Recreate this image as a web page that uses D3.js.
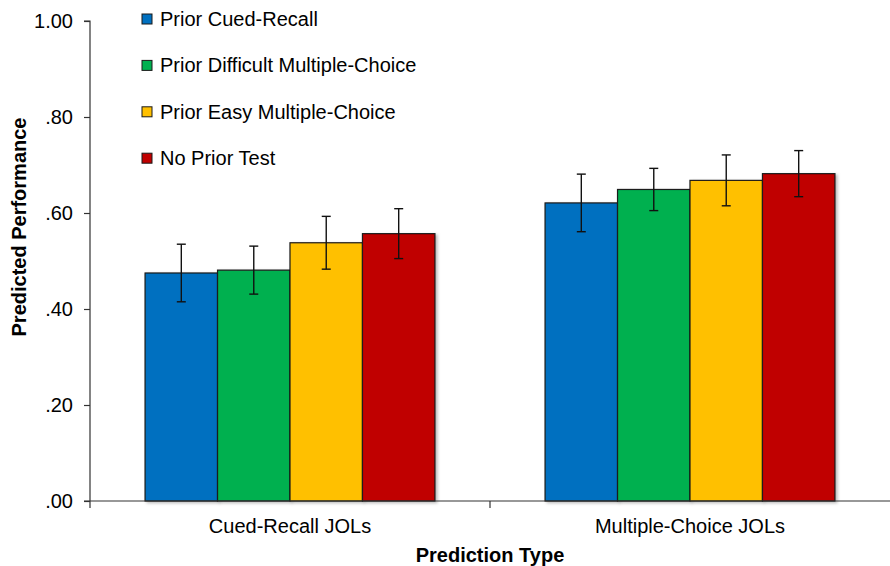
<!DOCTYPE html>
<html>
<head>
<meta charset="utf-8">
<script src="https://cdn.jsdelivr.net/npm/d3@7"></script>
<style>
  html, body { margin: 0; padding: 0; background: #fff; }
  svg { display: block; font-family: Arial, "Liberation Sans", sans-serif; }
</style>
</head>
<body>
<svg id="chart" width="890" height="566"></svg>
<script>
// Prediction types on the x axis
const categories = ["Cued-Recall JOLs", "Multiple-Choice JOLs"];
// Prior-test conditions (one bar per condition in each group)
const seriesNames = [
  "Prior Cued-Recall",
  "Prior Difficult Multiple-Choice",
  "Prior Easy Multiple-Choice",
  "No Prior Test"
];
const seriesColors = ["#0070C0", "#00B050", "#FFC000", "#C00000"];
// Mean predicted performance, one value per category
const priorCuedRecall      = [0.475, 0.621];
const priorDifficultMC     = [0.481, 0.649];
const priorEasyMC          = [0.538, 0.668];
const noPriorTest          = [0.557, 0.682];
// Error bar half-lengths
const errCuedRecall        = [0.060, 0.060];
const errDifficultMC       = [0.050, 0.044];
const errEasyMC            = [0.055, 0.053];
const errNoPrior           = [0.052, 0.048];
// Y tick values
const yTicks = [0, 0.2, 0.4, 0.6, 0.8, 1.0];

const means = [priorCuedRecall, priorDifficultMC, priorEasyMC, noPriorTest];
const errs  = [errCuedRecall, errDifficultMC, errEasyMC, errNoPrior];

const rows = [];
categories.forEach((c, ci) => {
  seriesNames.forEach((s, si) => {
    rows.push({ cat: c, series: s, si, value: means[si][ci], err: errs[si][ci] });
  });
});

const svg = d3.select("#chart");
const margin = { left: 90, right: 0, top: 21, bottom: 65 };
const W = 890, H = 566;
const plotBottom = H - margin.bottom;

const x0 = d3.scaleBand().domain(categories)
  .range([margin.left, W - margin.right]).paddingInner(0).paddingOuter(0);
const x1 = d3.scaleBand().domain(seriesNames)
  .range([0, x0.bandwidth()]).paddingInner(0).paddingOuter(0.76);
const y = d3.scaleLinear().domain([0, 1]).range([plotBottom, margin.top]);
const color = d3.scaleOrdinal().domain(seriesNames).range(seriesColors);

// soft shadow under the bars
const defs = svg.append("defs");
const f = defs.append("filter").attr("id", "barShadow")
  .attr("x", "-10%").attr("y", "-10%").attr("width", "130%").attr("height", "130%");
f.append("feDropShadow").attr("dx", 2).attr("dy", 1.5)
  .attr("stdDeviation", 1.5).attr("flood-color", "#000").attr("flood-opacity", 0.28);

// bars
svg.append("g").selectAll("rect").data(rows).join("rect")
  .attr("x", d => x0(d.cat) + x1(d.series))
  .attr("y", d => y(d.value))
  .attr("width", x1.bandwidth())
  .attr("height", d => y(0) - y(d.value))
  .attr("fill", d => color(d.series))
  .attr("stroke", "#1a1a1a")
  .attr("stroke-width", 1.2)
  .attr("filter", "url(#barShadow)");

// error bars
const eb = svg.append("g").attr("stroke", "#111").attr("stroke-width", 1.4);
const cap = 4.5;
rows.forEach(d => {
  const cx = x0(d.cat) + x1(d.series) + x1.bandwidth() / 2;
  const yt = y(d.value + d.err), yb = y(d.value - d.err);
  eb.append("line").attr("x1", cx).attr("x2", cx).attr("y1", yt).attr("y2", yb);
  eb.append("line").attr("x1", cx - cap).attr("x2", cx + cap).attr("y1", yt).attr("y2", yt);
  eb.append("line").attr("x1", cx - cap).attr("x2", cx + cap).attr("y1", yb).attr("y2", yb);
});

// y axis
const fmt = v => d3.format(".2f")(v).replace(/^0\./, ".");
const yAxis = svg.append("g")
  .attr("transform", `translate(${margin.left},0)`)
  .call(d3.axisLeft(y).tickValues(yTicks).tickFormat(fmt).tickSize(6).tickPadding(11));
yAxis.select(".domain").attr("stroke", "#333").attr("stroke-width", 1.2)
  .attr("d", `M-6,${y(1)}H0V${plotBottom + 7}`);
yAxis.selectAll(".tick line").attr("stroke", "#333").attr("stroke-width", 1.2);
yAxis.selectAll(".tick text").attr("font-size", 20).attr("fill", "#000")
  .attr("font-family", "Arial, 'Liberation Sans', sans-serif");

// x axis: baseline with boundary ticks between categories
const xAxis = svg.append("g");
xAxis.append("line")
  .attr("x1", margin.left - 6).attr("x2", W - margin.right)
  .attr("y1", plotBottom).attr("y2", plotBottom)
  .attr("stroke", "#333").attr("stroke-width", 1.2);
const bounds = categories.slice(1).map(c => x0(c));
bounds.forEach(bx => {
  xAxis.append("line").attr("x1", bx).attr("x2", bx)
    .attr("y1", plotBottom).attr("y2", plotBottom + 7)
    .attr("stroke", "#333").attr("stroke-width", 1.2);
});
xAxis.selectAll("text.cat").data(categories).join("text")
  .attr("class", "cat")
  .attr("x", d => x0(d) + x0.bandwidth() / 2)
  .attr("y", 533)
  .attr("text-anchor", "middle")
  .attr("font-size", 20)
  .attr("fill", "#000")
  .text(d => d);

// axis titles
svg.append("text")
  .attr("x", margin.left + (W - margin.left - margin.right) / 2)
  .attr("y", 562)
  .attr("text-anchor", "middle")
  .attr("font-size", 20).attr("font-weight", "bold")
  .text("Prediction Type");
svg.append("text")
  .attr("transform", "translate(26,227) rotate(-90)")
  .attr("text-anchor", "middle")
  .attr("font-size", 20).attr("font-weight", "bold")
  .text("Predicted Performance");

// legend
const legend = svg.append("g");
seriesNames.forEach((s, i) => {
  const gy = 14 + i * 46.4;
  legend.append("rect")
    .attr("x", 142).attr("y", gy).attr("width", 10).attr("height", 10)
    .attr("fill", seriesColors[i]).attr("stroke", "#1a1a1a").attr("stroke-width", 1);
  legend.append("text")
    .attr("x", 160).attr("y", gy + 12)
    .attr("font-size", 20).attr("fill", "#000")
    .text(s);
});
</script>
</body>
</html>
